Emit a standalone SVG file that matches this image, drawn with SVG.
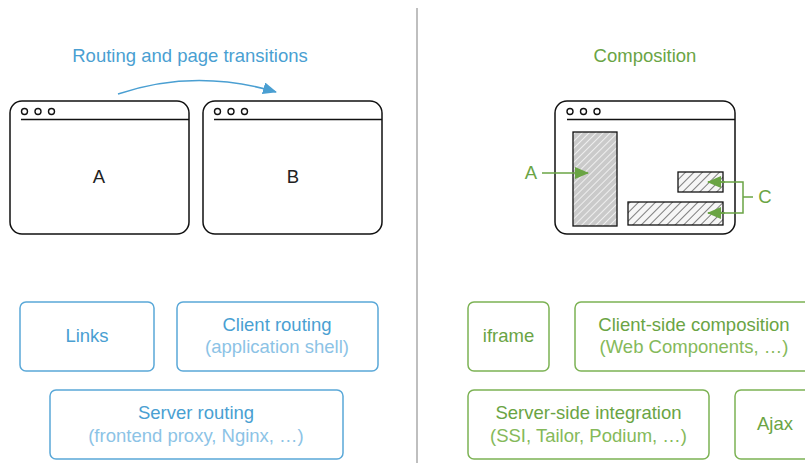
<svg xmlns="http://www.w3.org/2000/svg" width="805" height="463" viewBox="0 0 805 463">
<style>
text{font-family:"Liberation Sans",Arial,Helvetica,sans-serif;font-size:18.5px;text-anchor:middle}
.blue{fill:#4a9fd2}
.lblue{fill:#8cc3e6}
.green{fill:#6aa444}
.lgreen{fill:#85b95a}
.dark{fill:#222}
.win{fill:#fff;stroke:#111;stroke-width:1.5}
.bar{stroke:#111;stroke-width:1.5;fill:none}
.dot{fill:#fff;stroke:#111;stroke-width:1.4}
.bbox{fill:#fff;stroke:#5aa8d8;stroke-width:1.5}
.gbox{fill:#fff;stroke:#7cb254;stroke-width:1.5}
.gline{stroke:#6aa444;stroke-width:1.5;fill:none}
.hatch{stroke:#111;stroke-width:1.3}
</style>
<defs>
<marker id="bArrow" viewBox="0 0 14 12" refX="13" refY="6" markerWidth="14" markerHeight="12" markerUnits="userSpaceOnUse" orient="auto">
<path d="M0,0 L14,6 L0,12 Z" fill="#4a9fd2"/>
</marker>
<marker id="gArrow" viewBox="0 0 14 12" refX="13" refY="6" markerWidth="14" markerHeight="12" markerUnits="userSpaceOnUse" orient="auto">
<path d="M0,0 L14,6 L0,12 Z" fill="#6aa444"/>
</marker>
<pattern id="hatchDense" patternUnits="userSpaceOnUse" width="5" height="5" patternTransform="rotate(45)">
<rect width="5" height="5" fill="#cacaca"/>
<line x1="0" y1="0" x2="0" y2="5" stroke="#efefef" stroke-width="2"/>
</pattern>
<pattern id="hatchSparse" patternUnits="userSpaceOnUse" width="6" height="6" patternTransform="rotate(45)">
<rect width="6" height="6" fill="#f6f6f6"/>
<line x1="0" y1="0" x2="0" y2="6" stroke="#555" stroke-width="1.5"/>
</pattern>
</defs>
<rect width="805" height="463" fill="#fff"/>

<line x1="417" y1="8" x2="417" y2="463" stroke="#aaa" stroke-width="1.5"/>

<text x="190" y="62" class="blue">Routing and page transitions</text>
<text x="645" y="62" class="green">Composition</text>

<g id="browserA">
<rect x="10" y="101" width="179" height="133" rx="12" class="win"/>
<line x1="21" y1="119.5" x2="189" y2="119.5" class="bar"/>
<circle cx="24.5" cy="111.5" r="3" class="dot"/>
<circle cx="38" cy="111.5" r="3" class="dot"/>
<circle cx="51.5" cy="111.5" r="3" class="dot"/>
<text x="99" y="183" class="dark">A</text>
</g>
<g id="browserB">
<rect x="203" y="101" width="179" height="133" rx="12" class="win"/>
<line x1="214" y1="119.5" x2="382" y2="119.5" class="bar"/>
<circle cx="217.5" cy="111.5" r="3" class="dot"/>
<circle cx="231" cy="111.5" r="3" class="dot"/>
<circle cx="244.5" cy="111.5" r="3" class="dot"/>
<text x="293" y="183" class="dark">B</text>
</g>

<g id="browserC">
<rect x="555" y="101" width="180" height="133" rx="12" class="win"/>
<line x1="567" y1="119.5" x2="735" y2="119.5" class="bar"/>
<circle cx="570" cy="111.5" r="3" class="dot"/>
<circle cx="583.5" cy="111.5" r="3" class="dot"/>
<circle cx="597" cy="111.5" r="3" class="dot"/>
<rect x="573" y="132" width="44" height="94" fill="url(#hatchDense)" class="hatch"/>
<rect x="678" y="172" width="45" height="20" fill="url(#hatchSparse)" class="hatch"/>
<rect x="628" y="202" width="95" height="23" fill="url(#hatchSparse)" class="hatch"/>
</g>

<g id="labelA">
<text x="531" y="179" class="green">A</text>
</g>
<g id="labelC">
<text x="765" y="203" class="green">C</text>
</g>

<g id="connectors">
<path d="M118,94 Q195,68 276,92" fill="none" stroke="#4a9fd2" stroke-width="1.5" marker-end="url(#bArrow)"/>
<line x1="542" y1="173" x2="588" y2="173" class="gline" marker-end="url(#gArrow)"/>
<polyline points="708,182 743,182 743,213 708,213" class="gline"/>
<line x1="743" y1="197" x2="753" y2="197" class="gline"/>
<line x1="725" y1="182" x2="708" y2="182" class="gline" marker-end="url(#gArrow)"/>
<line x1="725" y1="213" x2="708" y2="213" class="gline" marker-end="url(#gArrow)"/>
</g>

<g id="links">
<rect x="20" y="302" width="134" height="69" rx="6" class="bbox"/>
<text x="87" y="342" class="blue">Links</text>
</g>
<g id="clientRouting">
<rect x="177" y="302" width="201" height="69" rx="6" class="bbox"/>
<text x="277" y="331" class="blue">Client routing</text>
<text x="277" y="353" class="lblue">(application shell)</text>
</g>
<g id="serverRouting">
<rect x="50" y="390" width="293" height="69" rx="6" class="bbox"/>
<text x="196" y="419" class="blue">Server routing</text>
<text x="196" y="442" class="lblue">(frontend proxy, Nginx, …)</text>
</g>

<g id="iframe">
<rect x="468" y="302" width="81" height="69" rx="6" class="gbox"/>
<text x="508.5" y="342" class="green">iframe</text>
</g>
<g id="clientComposition">
<rect x="575" y="302" width="240" height="69" rx="6" class="gbox"/>
<text x="694" y="331" class="green">Client-side composition</text>
<text x="694" y="353" class="lgreen">(Web Components, …)</text>
</g>
<g id="serverIntegration">
<rect x="468" y="390" width="241" height="69" rx="6" class="gbox"/>
<text x="588.5" y="419" class="green">Server-side integration</text>
<text x="588.5" y="442" class="lgreen">(SSI, Tailor, Podium, …)</text>
</g>
<g id="ajax">
<rect x="735" y="390" width="90" height="69" rx="6" class="gbox"/>
<text x="775" y="430" class="green">Ajax</text>
</g>
</svg>
